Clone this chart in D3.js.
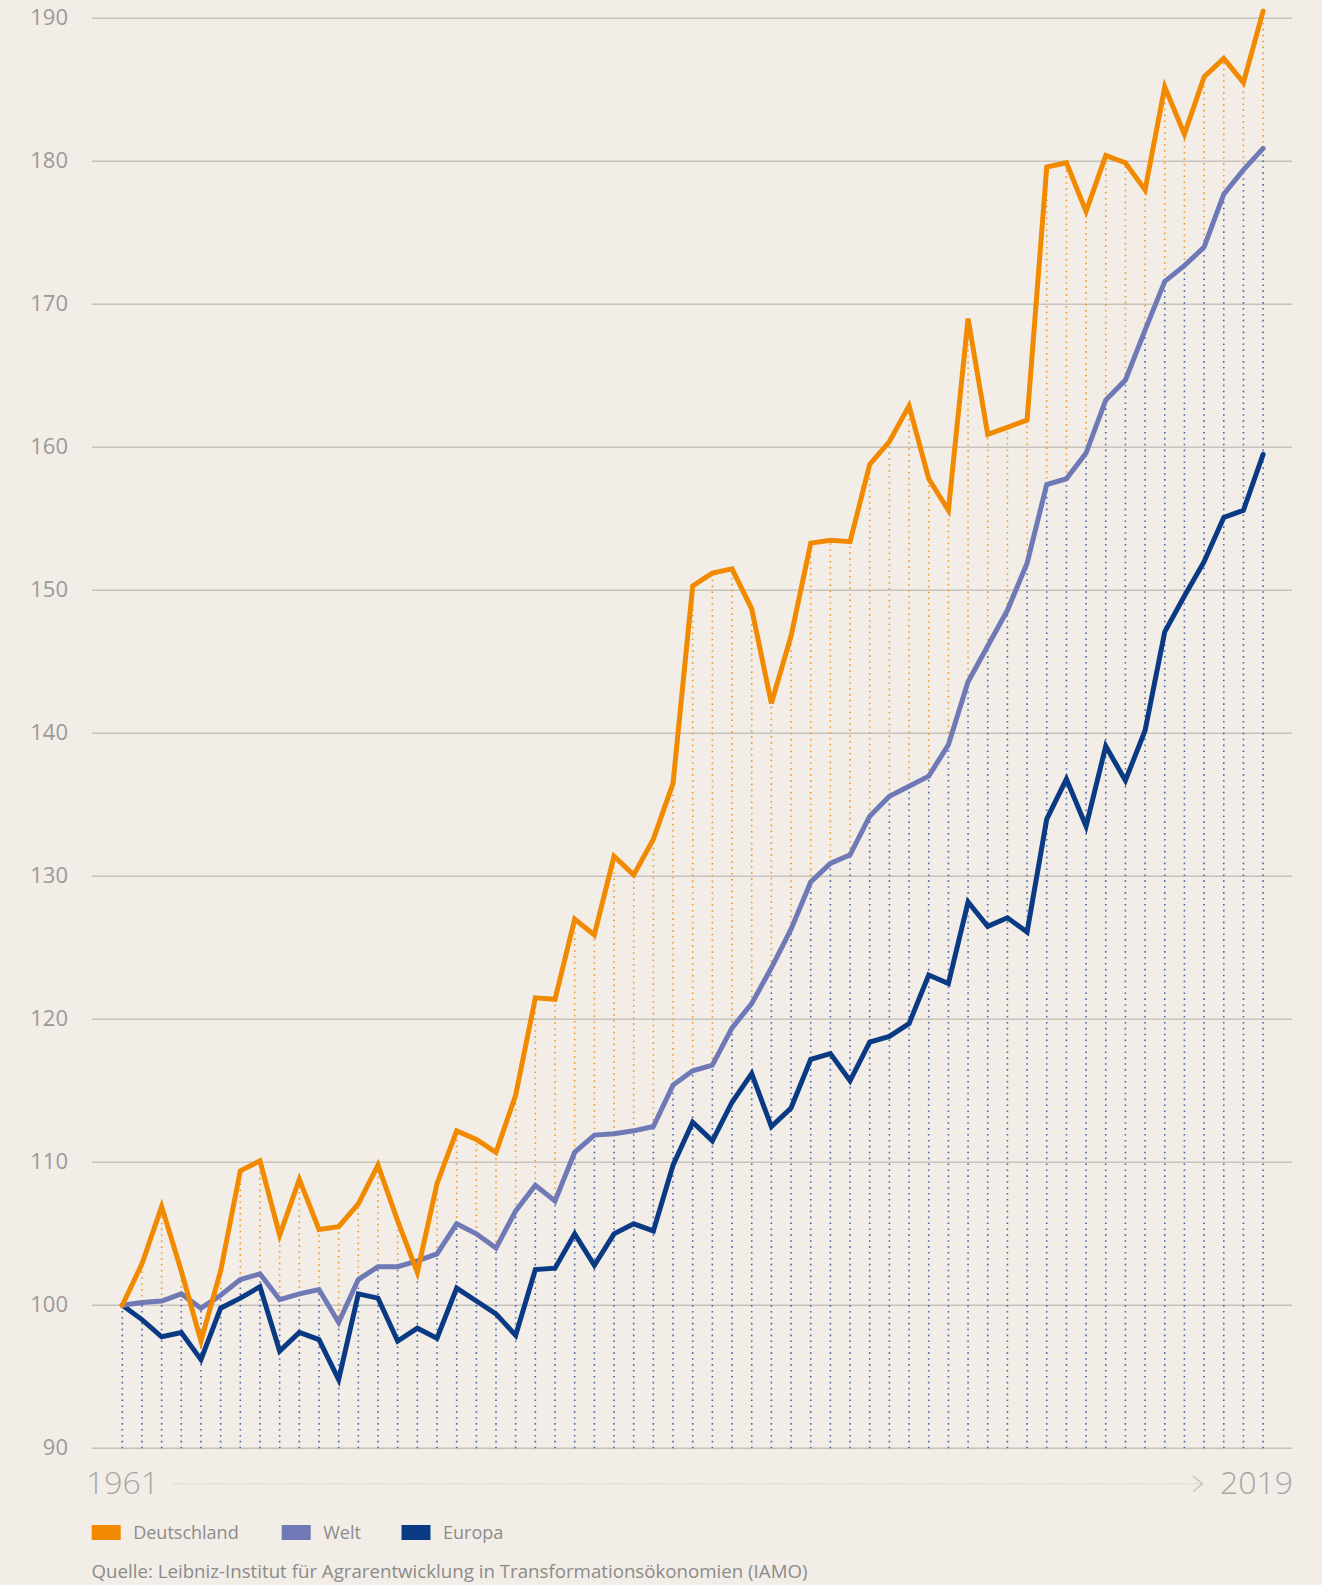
<!DOCTYPE html>
<html lang="de">
<head>
<meta charset="utf-8">
<title>Index 1961-2019</title>
<script src="https://cdn.jsdelivr.net/npm/d3@7"></script>
<style>
  html, body { margin: 0; padding: 0; background: #f2ede7; }
  svg { display: block; font-family: "Open Sans", "Noto Sans", sans-serif; }
</style>
</head>
<body>
<svg id="chart" width="1322" height="1585"></svg>
<script>
// years 1961 - 2019
var years = d3.range(1961, 2020);

var deutschland = [100, 102.9, 106.9, 102.4, 97.5, 102.4, 109.4, 110.1, 104.9, 108.8,
  105.3, 105.5, 107.1, 109.8, 105.9, 102.3, 108.5, 112.2, 111.6, 110.7,
  114.7, 121.5, 121.4, 127.0, 125.9, 131.4, 130.1, 132.6, 136.5, 150.3,
  151.2, 151.5, 148.7, 142.1, 146.8, 153.3, 153.5, 153.4, 158.8, 160.4,
  162.9, 157.8, 155.6, 169.0, 160.9, 161.4, 161.9, 179.6, 179.9, 176.5,
  180.4, 179.9, 178.0, 185.2, 181.9, 185.9, 187.2, 185.5, 190.5];

var welt = [100, 100.2, 100.3, 100.8, 99.8, 100.7, 101.8, 102.2, 100.4, 100.8,
  101.1, 98.8, 101.8, 102.7, 102.7, 103.1, 103.6, 105.7, 105.0, 104.0,
  106.6, 108.4, 107.3, 110.7, 111.9, 112.0, 112.2, 112.5, 115.4, 116.4,
  116.8, 119.4, 121.1, 123.6, 126.3, 129.6, 130.9, 131.5, 134.2, 135.6,
  136.3, 137.0, 139.2, 143.6, 146.1, 148.6, 151.9, 157.4, 157.8, 159.6,
  163.3, 164.7, 168.2, 171.6, 172.7, 174.0, 177.7, 179.4, 180.9];

var europa = [100, 99.0, 97.8, 98.1, 96.2, 99.8, 100.5, 101.3, 96.8, 98.1,
  97.6, 94.8, 100.8, 100.5, 97.5, 98.4, 97.7, 101.2, 100.3, 99.4,
  97.9, 102.5, 102.6, 105.0, 102.8, 105.0, 105.7, 105.2, 109.8, 112.8,
  111.5, 114.2, 116.2, 112.5, 113.8, 117.2, 117.6, 115.7, 118.4, 118.8,
  119.7, 123.1, 122.5, 128.2, 126.5, 127.1, 126.1, 134.0, 136.8, 133.5,
  139.1, 136.7, 140.2, 147.1, 149.6, 152.0, 155.1, 155.6, 159.5];

var yTicks = [90, 100, 110, 120, 130, 140, 150, 160, 170, 180, 190];

var seriesNames = ["Deutschland", "Welt", "Europa"];
var seriesColors = ["#f18a00", "#6e79b5", "#0b3a84"];

var svg = d3.select("#chart");

var x = d3.scaleLinear().domain([1961, 2019]).range([122.3, 1263.1]);
var y = d3.scaleLinear().domain([90, 190]).range([1448.3, 18.3]);

// grid
svg.append("g")
  .selectAll("line")
  .data(yTicks)
  .enter().append("line")
  .attr("x1", 92).attr("x2", 1292)
  .attr("y1", function (d) { return y(d); })
  .attr("y2", function (d) { return y(d); })
  .attr("stroke", "#c6c3be")
  .attr("stroke-width", 1.5);

// y labels
svg.append("g")
  .selectAll("text")
  .data(yTicks)
  .enter().append("text")
  .attr("x", 68)
  .attr("y", function (d) { return y(d) + 6.5; })
  .attr("text-anchor", "end")
  .attr("font-size", 22)
  .attr("fill", "#9b9a98")
  .text(function (d) { return d; });

// dotted droplines
var drops = svg.append("g");
years.forEach(function (yr, i) {
  var top = Math.max(welt[i], europa[i]);
  drops.append("line")
    .attr("x1", x(yr)).attr("x2", x(yr))
    .attr("y1", y(90)).attr("y2", y(top))
    .attr("stroke", "#4a67ad")
    .attr("stroke-width", 1.6)
    .attr("stroke-dasharray", "1.6,4.3");
  if (deutschland[i] > top) {
    drops.append("line")
      .attr("x1", x(yr)).attr("x2", x(yr))
      .attr("y1", y(top)).attr("y2", y(deutschland[i]))
      .attr("stroke", "#f39a26")
      .attr("stroke-width", 1.6)
      .attr("stroke-dasharray", "1.6,4.3");
  }
});

// lines
var line = d3.line()
  .x(function (d, i) { return x(years[i]); })
  .y(function (d) { return y(d); });

[europa, welt, deutschland].forEach(function (s, k) {
  svg.append("path")
    .datum(s)
    .attr("d", line)
    .attr("fill", "none")
    .attr("stroke", seriesColors[2 - k])
    .attr("stroke-width", 5)
    .attr("stroke-linejoin", "miter")
    .attr("stroke-linecap", "round");
});

// x axis: start / end year with arrow
svg.append("text")
  .attr("x", 86).attr("y", 1494)
  .attr("font-size", 32).attr("font-weight", 300)
  .attr("fill", "#a9a7a4")
  .text(years[0]);

svg.append("text")
  .attr("x", 1293).attr("y", 1494)
  .attr("text-anchor", "end")
  .attr("font-size", 32).attr("font-weight", 300)
  .attr("fill", "#a9a7a4")
  .text(years[years.length - 1]);

svg.append("line")
  .attr("x1", 173).attr("x2", 1202)
  .attr("y1", 1483.7).attr("y2", 1483.7)
  .attr("stroke", "#cfccc8")
  .attr("stroke-width", 1.2)
  .attr("stroke-dasharray", "1,1.5");

svg.append("path")
  .attr("d", "M1193,1476 L1202.5,1483.7 L1193,1491.5")
  .attr("fill", "none")
  .attr("stroke", "#c4c1bd")
  .attr("stroke-width", 1.4);

// legend
var legX = [91.7, 281.7, 401.5];
var legend = svg.append("g")
  .selectAll("g")
  .data(seriesNames)
  .enter().append("g")
  .attr("transform", function (d, i) { return "translate(" + legX[i] + ",1525)"; });

legend.append("rect")
  .attr("width", 29).attr("height", 15)
  .attr("fill", function (d, i) { return seriesColors[i]; });

legend.append("text")
  .attr("x", 41.5).attr("y", 14)
  .attr("font-size", 18)
  .attr("fill", "#8c8b89")
  .text(function (d) { return d; });

svg.append("text")
  .attr("x", 91.5).attr("y", 1578)
  .attr("font-size", 18.7)
  .attr("fill", "#8c8b89")
  .text("Quelle: Leibniz-Institut für Agrarentwicklung in Transformationsökonomien (IAMO)");
</script>
</body>
</html>
